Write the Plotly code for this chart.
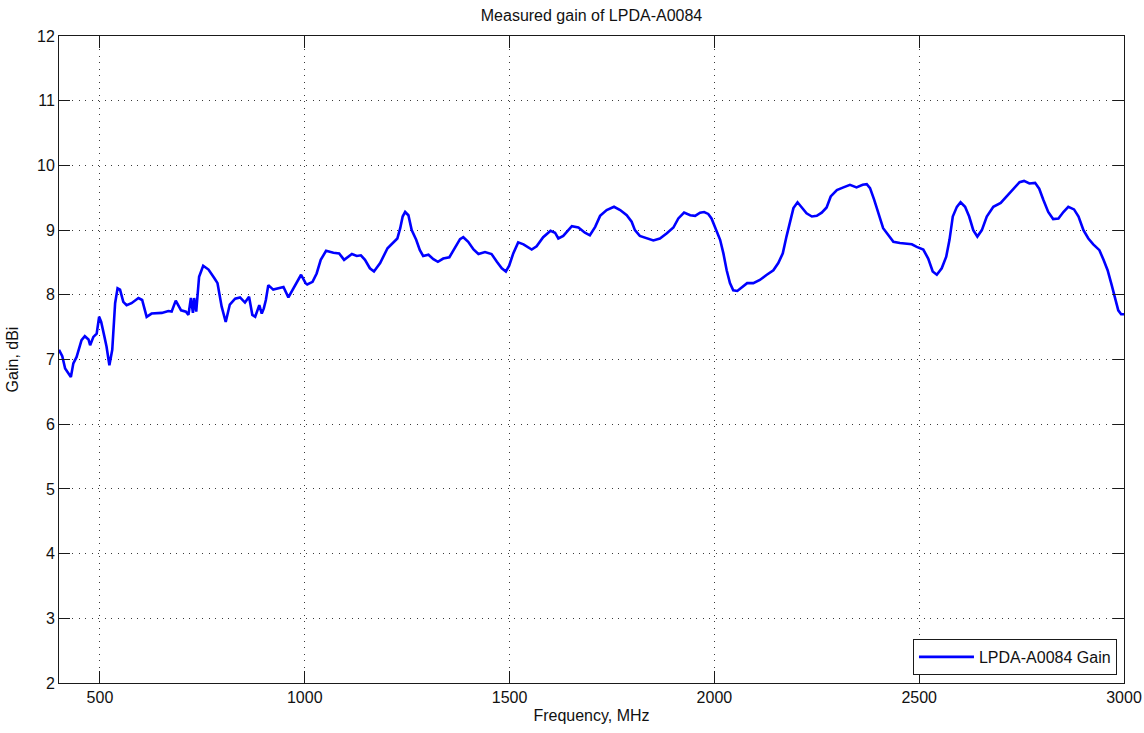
import plotly.graph_objects as go

# Frequency (MHz) and measured gain (dBi)
freq = [400, 408, 415, 429, 435, 443, 455, 463, 472, 476, 484, 492, 498, 503, 511, 516,
        523, 530, 537, 543, 549, 557, 565, 577, 594, 603, 614, 626, 651, 667, 675, 685,
        698, 710, 716, 722, 727, 730, 735, 742, 752, 765, 779, 787, 797, 807, 817, 830,
        842, 854, 864, 872, 879, 889, 895, 900, 905, 911, 923, 948, 960, 976, 991, 1002,
        1006, 1019, 1029, 1039, 1052, 1070, 1084, 1096, 1104, 1115, 1127, 1137, 1147, 1159,
        1169, 1184, 1202, 1216, 1226, 1233, 1239, 1245, 1253, 1261, 1272, 1281, 1289, 1302,
        1314, 1325, 1338, 1353, 1367, 1379, 1387, 1399, 1412, 1424, 1440, 1456, 1469, 1481,
        1491, 1499, 1509, 1521, 1534, 1554, 1566, 1582, 1600, 1611, 1619, 1631, 1652, 1668,
        1684, 1696, 1709, 1721, 1737, 1755, 1770, 1786, 1798, 1806, 1818, 1835, 1851, 1867,
        1884, 1900, 1912, 1926, 1941, 1953, 1965, 1975, 1985, 1993, 2002, 2014, 2022, 2030,
        2038, 2046, 2056, 2067, 2080, 2095, 2111, 2128, 2144, 2156, 2167, 2176, 2185, 2193,
        2203, 2213, 2225, 2238, 2250, 2262, 2274, 2284, 2299, 2315, 2331, 2347, 2362, 2372,
        2380, 2390, 2400, 2412, 2425, 2437, 2453, 2470, 2482, 2494, 2510, 2522, 2533, 2543,
        2555, 2566, 2574, 2582, 2592, 2601, 2612, 2622, 2632, 2642, 2653, 2665, 2681, 2699,
        2714, 2730, 2745, 2756, 2769, 2783, 2793, 2803, 2815, 2827, 2840, 2852, 2864, 2878,
        2889, 2901, 2913, 2925, 2940, 2950, 2960, 2970, 2978, 2986, 2993, 3000]
gain = [7.15, 7.05, 6.86, 6.73, 6.94, 7.04, 7.30, 7.36, 7.31, 7.22, 7.35, 7.40, 7.66, 7.58, 7.35, 7.20,
        6.91, 7.15, 7.87, 8.10, 8.08, 7.89, 7.84, 7.87, 7.95, 7.92, 7.66, 7.71, 7.72, 7.75, 7.74, 7.91,
        7.76, 7.74, 7.69, 7.95, 7.72, 7.95, 7.74, 8.28, 8.45, 8.39, 8.26, 8.18, 7.82, 7.58, 7.85, 7.94,
        7.96, 7.88, 7.97, 7.69, 7.66, 7.84, 7.71, 7.79, 7.92, 8.15, 8.08, 8.12, 7.96, 8.13, 8.31, 8.18,
        8.16, 8.20, 8.33, 8.54, 8.68, 8.65, 8.64, 8.54, 8.58, 8.63, 8.60, 8.61, 8.54, 8.41,
        8.36, 8.49, 8.72, 8.80, 8.87, 9.03, 9.21, 9.28, 9.23, 9.00, 8.85, 8.69, 8.60, 8.62,
        8.55, 8.51, 8.56, 8.58, 8.74, 8.86, 8.89, 8.82, 8.70, 8.63, 8.66, 8.63, 8.51, 8.41,
        8.36, 8.45, 8.64, 8.81, 8.78, 8.70, 8.75, 8.89, 8.99, 8.96, 8.87, 8.91, 9.06, 9.04,
        8.96, 8.92, 9.05, 9.22, 9.31, 9.36, 9.31, 9.23, 9.13, 9.00, 8.91, 8.87, 8.84, 8.87,
        8.95, 9.04, 9.18, 9.27, 9.23, 9.22, 9.27, 9.28, 9.25, 9.18, 9.03, 8.85, 8.64, 8.38,
        8.18, 8.07, 8.06, 8.12, 8.18, 8.18, 8.23, 8.31, 8.38, 8.49, 8.64, 8.90, 9.16, 9.34,
        9.43, 9.35, 9.26, 9.21, 9.22, 9.27, 9.35, 9.52, 9.62, 9.66, 9.70, 9.66, 9.70, 9.71,
        9.65, 9.47, 9.26, 9.03, 8.92, 8.82, 8.80, 8.79, 8.78, 8.74, 8.70, 8.56, 8.36, 8.31,
        8.41, 8.59, 8.85, 9.21, 9.36, 9.43, 9.36, 9.21, 9.00, 8.90, 9.00, 9.21, 9.36, 9.42,
        9.52, 9.63, 9.74, 9.76, 9.72, 9.73, 9.64, 9.47, 9.28, 9.17, 9.18, 9.28, 9.36, 9.32,
        9.21, 9.00, 8.87, 8.78, 8.69, 8.54, 8.38, 8.15, 7.97, 7.76, 7.70, 7.70]

x_ticks = [500, 1000, 1500, 2000, 2500, 3000]
y_ticks = [2, 3, 4, 5, 6, 7, 8, 9, 10, 11, 12]

FONT = "Liberation Sans, Arial, Helvetica, sans-serif"
FS = 16

fig = go.Figure()
fig.add_trace(go.Scatter(
    x=freq, y=gain, mode="lines", name="LPDA-A0084 Gain",
    line=dict(color="#0000ff", width=2.6),
))

axis_common = dict(
    showline=True, linecolor="#1a1a1a", linewidth=1, mirror="ticks",
    ticks="inside", tickcolor="#1a1a1a", tickwidth=1,
    showgrid=True, gridcolor="#3a3a3a", gridwidth=1, griddash="1px,5.5px",
    zeroline=False, automargin=False,
    tickfont=dict(family=FONT, size=FS, color="#111"),
)

fig.update_xaxes(range=[400, 3000], tickvals=x_ticks, ticklen=12,
                 title=dict(text="Frequency, MHz", font=dict(family=FONT, size=FS, color="#111"),
                            standoff=4),
                 **axis_common)
fig.update_yaxes(range=[2, 12], tickvals=y_ticks, ticklen=11,
                 title=dict(text="Gain, dBi", font=dict(family=FONT, size=FS, color="#111"),
                            standoff=14),
                 **axis_common)

fig.update_layout(
    width=1144, height=733, autosize=False,
    margin=dict(l=59, r=20, t=36, b=50, pad=0, autoexpand=False),
    plot_bgcolor="white", paper_bgcolor="white",
    font=dict(family=FONT, size=FS, color="#111"),
    title=dict(text="Measured gain of LPDA-A0084", x=0.5, xref="paper", xanchor="center",
               y=1 - 15 / 733, yref="container", yanchor="middle",
               font=dict(family=FONT, size=FS, color="#111")),
    showlegend=True,
    legend=dict(x=0.9934, y=0.0124, xanchor="right", yanchor="bottom",
                bgcolor="white", bordercolor="#1a1a1a", borderwidth=1,
                font=dict(family=FONT, size=FS, color="#111"), itemwidth=55,
                tracegroupgap=0),
)

fig.write_html("out.html", config={"displayModeBar": False},
               post_script="document.body.style.margin='0px';")
